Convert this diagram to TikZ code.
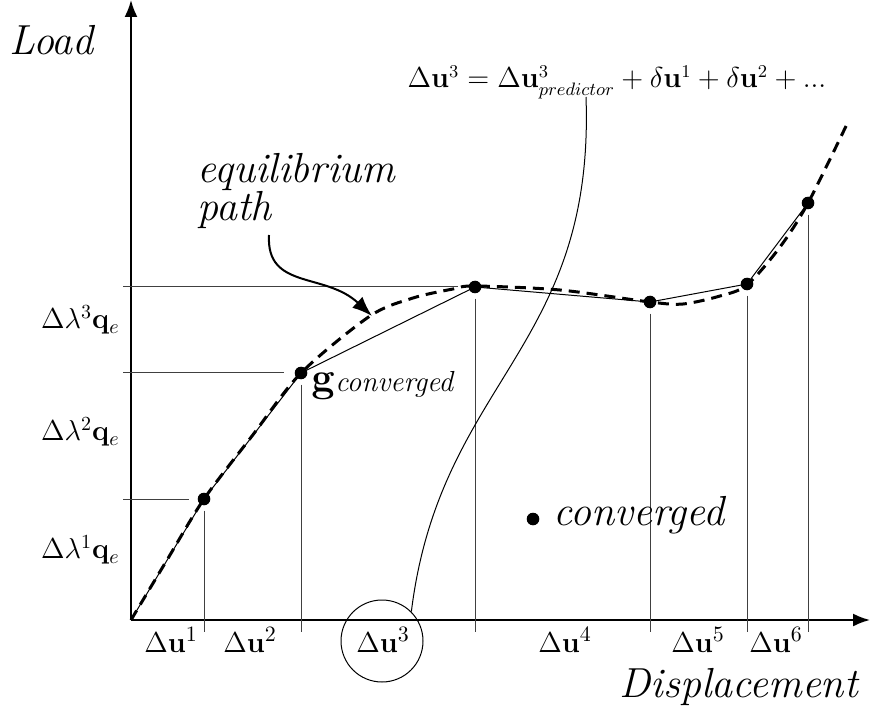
\documentclass[tikz,border=0pt]{standalone}
\usetikzlibrary{arrows.meta}
\begin{document}
\begin{tikzpicture}[x=0.5pt,y=-0.5pt,
  axis/.style={line width=1pt,-{Latex[length=8.5pt,width=6.5pt]}},
  guide/.style={line width=0.5pt,black!75},
  poly/.style={line width=0.5pt},
  eqpath/.style={line width=1.5pt,dash pattern=on 5.5pt off 3.5pt},
  dot/.style={circle,fill=black,inner sep=0pt,minimum size=6.3pt},
  big/.style={inner sep=0pt,font=\fontsize{21}{25}\selectfont\itshape},
  lab/.style={inner sep=0pt,font=\fontsize{15}{18}\selectfont},
  llab/.style={inner sep=0pt,font=\fontsize{14}{17}\selectfont}]
\useasboundingbox (0,0) rectangle (876,715);
% axes
\coordinate (o) at (131,620);
\coordinate (xend) at (870,620);
\coordinate (yend) at (131,0);
\coordinate (hl) at (123,0);
\coordinate (tb) at (0,632);
\draw[axis] (o) -- (xend);
\draw[axis] (o) -- (yend);
% points
\node[dot] (p1) at (204,499) {};
\node[dot] (p2) at (301,373) {};
\node[dot] (p3) at (475,287) {};
\node[dot] (p4) at (650,302) {};
\node[dot] (p5) at (747,284) {};
\node[dot] (p6) at (808,203) {};
% guides
\foreach \p in {p1,p2,p3,p4,p5,p6}
  \draw[guide] ([yshift=-2.5pt]\p.south) -- (\p |- tb);
\draw[guide] (p1 -| hl) -- ([xshift=-4pt]p1.west);
\draw[guide] (p2 -| hl) -- ([xshift=-5pt]p2.west);
\draw[guide] (p3 -| hl) -- ([xshift=-5pt]p3.west);
% polyline
\draw[poly] (o) -- (p1.center) -- (p2.center) -- (p3.center) -- (p4.center) -- (p5.center) -- (p6.center);
% equilibrium path
\draw[eqpath] plot[smooth,tension=0.5] coordinates {(131,620) (167,560) (204,499) (252,436) (301,373) (370,316) (413,298) (453,289) (475,286) (560,290) (650,302) (683,304) (720,296) (747,285) (780,247) (808,203) (848,122)};
% labels
\node[big,anchor=base west] (load) at (9,55) {Load};
\node[big,anchor=base east] (disp) at (858,697) {Displacement};
\node[big,anchor=base west] (eq1) at (197,183) {equilibrium};
\node[big,anchor=base west] (eq2) at (197,221) {path};
\coordinate (astart) at (269,235);
\coordinate (aend) at (372,316);
\draw[line width=1pt,-{Latex[length=10pt,width=7.5pt]}] (astart) .. controls (266,290) and (325,272) .. (aend);
\node[llab,anchor=east] (l3) at (120,320) {$\Delta\lambda^3\mathbf{q}_e$};
\node[llab,anchor=east] (l2) at (120,432) {$\Delta\lambda^2\mathbf{q}_e$};
\node[llab,anchor=east] (l1) at (120,550) {$\Delta\lambda^1\mathbf{q}_e$};
\node[lab,anchor=base] (u1) at (171,652) {$\Delta\mathbf{u}^1$};
\node[lab,anchor=base] (u2) at (250,652) {$\Delta\mathbf{u}^2$};
\node[lab,anchor=base] (u3) at (383,652) {$\Delta\mathbf{u}^3$};
\node[lab,anchor=base] (u4) at (565,652) {$\Delta\mathbf{u}^4$};
\node[lab,anchor=base] (u5) at (698,652) {$\Delta\mathbf{u}^5$};
\node[lab,anchor=base] (u6) at (776,652) {$\Delta\mathbf{u}^6$};
\node[draw,circle,line width=0.5pt,minimum size=41pt,inner sep=0pt] (c3) at (382,641) {};
\node[inner sep=0pt,anchor=base west] (gc) at (311,392) {\fontsize{21}{24}\selectfont$\mathbf{g}$\fontsize{14.5}{16}\selectfont\itshape converged};
\node[dot] (cd) at (533,519) {};
\node[big,anchor=base west] (ct) at (553,525) {converged};
\node[inner sep=0pt,anchor=base] (eqn) at (617,88) {\fontsize{13.3}{16}\selectfont$\Delta\mathbf{u}^3=\Delta\mathbf{u}^3_{predictor}+\delta\mathbf{u}^1+\delta\mathbf{u}^2+...$};
\coordinate (etail) at (586,97);
\draw[line width=0.5pt] (etail) .. controls (595,350) and (440,380) .. (c3.north east);
\end{tikzpicture}
\end{document}
